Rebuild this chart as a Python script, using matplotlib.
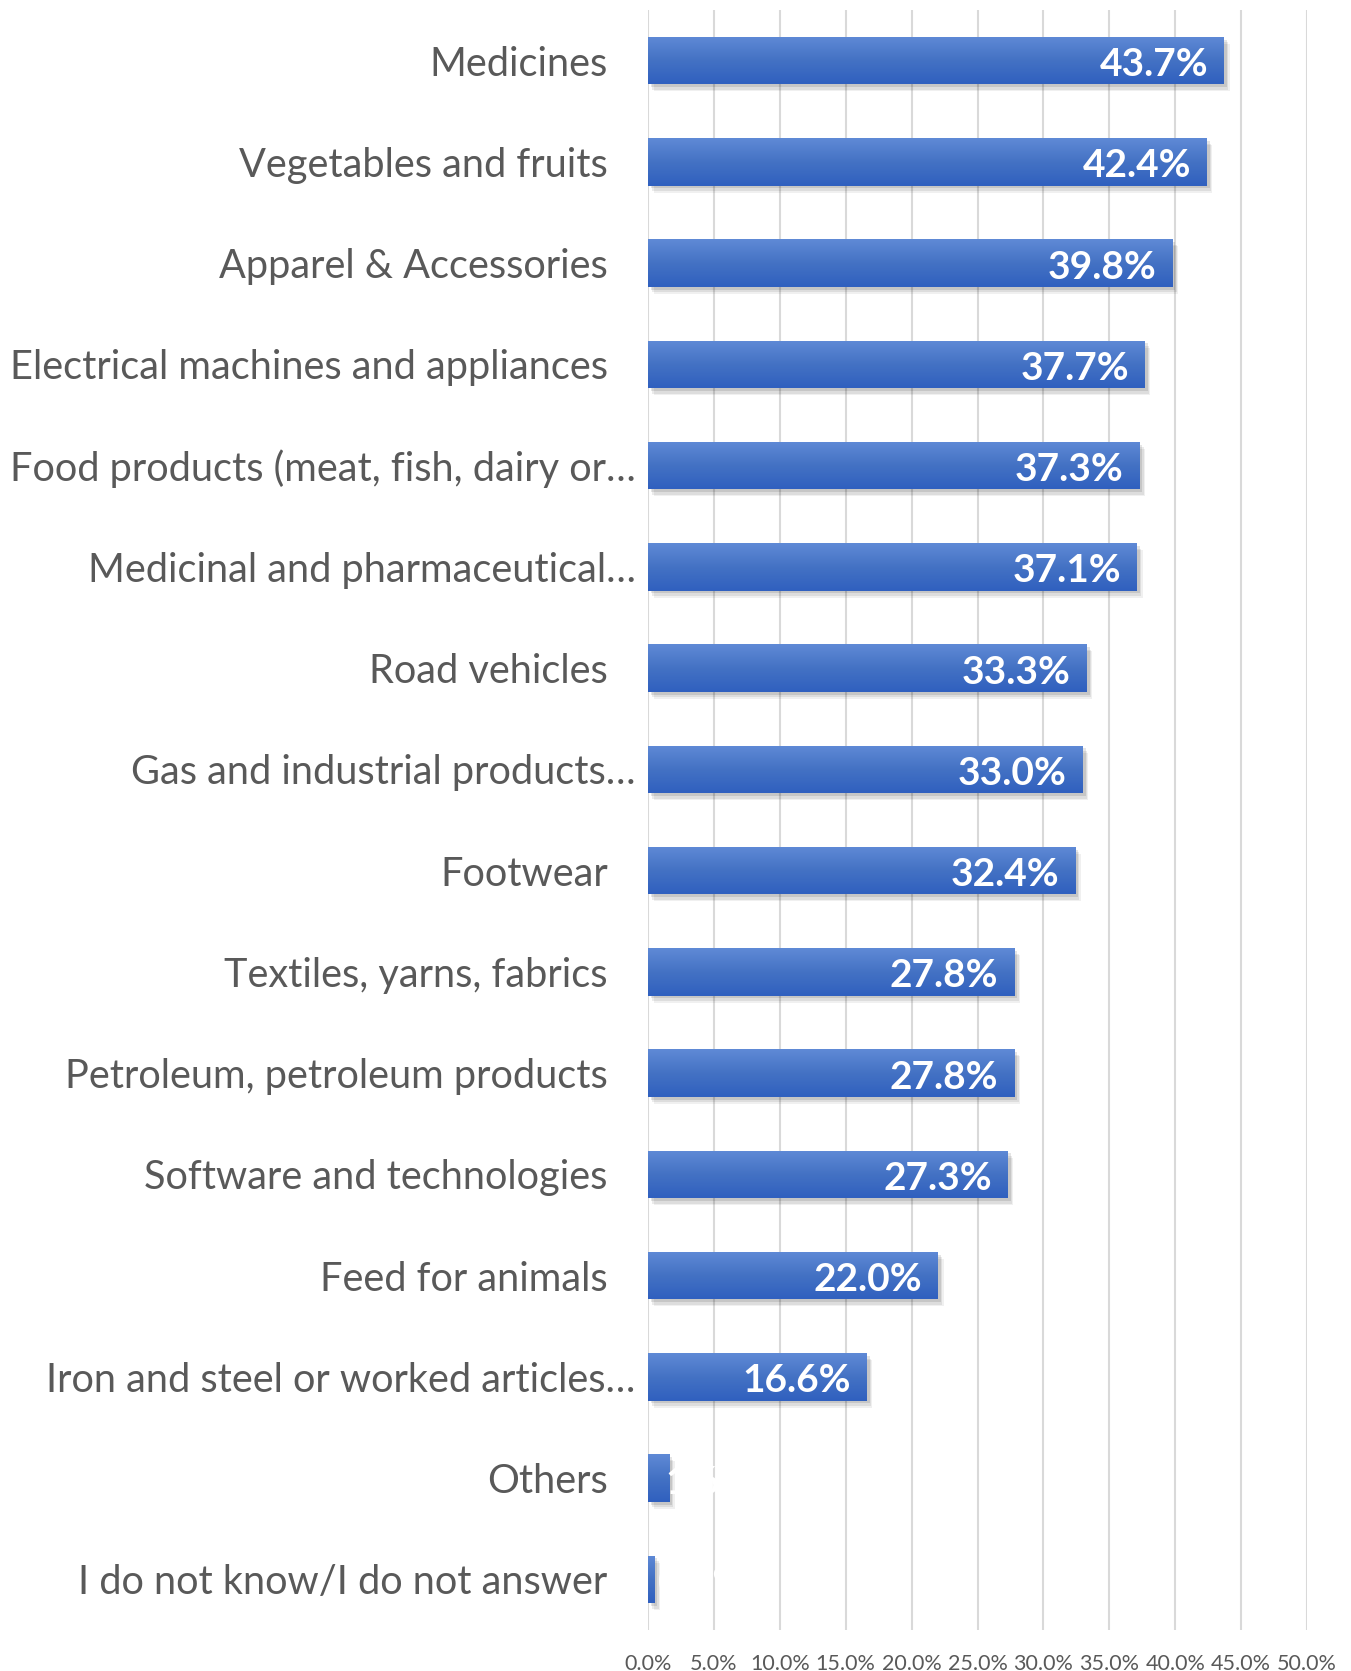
import numpy as np
import matplotlib
matplotlib.use("Agg")
import matplotlib.pyplot as plt
from matplotlib.colors import LinearSegmentedColormap
from matplotlib import patheffects as pe

plt.rcParams['font.family'] = ['Lato', 'DejaVu Sans']

# data, top to bottom as in the chart
categories = ['Medicines', 'Vegetables and fruits', 'Apparel & Accessories',
              'Electrical machines and appliances',
              'Food products (meat, fish, dairy or\u2026',
              'Medicinal and pharmaceutical\u2026', 'Road vehicles',
              'Gas and industrial products\u2026', 'Footwear',
              'Textiles, yarns, fabrics', 'Petroleum, petroleum products',
              'Software and technologies', 'Feed for animals',
              'Iron and steel or worked articles\u2026', 'Others',
              'I do not know/I do not answer']
values = [43.7, 42.4, 39.8, 37.7, 37.3, 37.1, 33.3, 33.0, 32.4,
          27.8, 27.8, 27.3, 22.0, 16.6, 1.6, 0.5]
xticks = [0, 5, 10, 15, 20, 25, 30, 35, 40, 45, 50]

W, H = 1351, 1671
fig = plt.figure(figsize=(W / 100, H / 100), dpi=100)
ax = fig.add_axes([648 / W, 1 - 1630 / H, (1307 - 648) / W, 1620 / H])

grey = '#595959'
cmap = LinearSegmentedColormap.from_list('bar', ['#5f8ad6', '#4472c4', '#3060bf'])
grad = np.linspace(0, 1, 64).reshape(-1, 1)

y = np.arange(len(categories))
bh = 0.47
shadow = [pe.SimplePatchShadow(offset=(4, -5), shadow_rgbFace='#000000', alpha=0.06),
          pe.SimplePatchShadow(offset=(3, -4), shadow_rgbFace='#000000', alpha=0.08),
          pe.SimplePatchShadow(offset=(2, -2), shadow_rgbFace='#000000', alpha=0.1),
          pe.Normal()]
bars = ax.barh(y, values, height=bh, color='#4472c4', zorder=3, path_effects=shadow)
for b in bars:
    x0, y0, w, h = b.get_x(), b.get_y(), b.get_width(), b.get_height()
    # y axis is inverted, so y0 is the top edge on screen
    im = ax.imshow(grad, cmap=cmap, aspect='auto', extent=[x0, x0 + w, y0 + h, y0],
                   origin='upper', zorder=4)
    im.set_clip_path(b)

for i, v in enumerate(values):
    lab = f'{v:.1f}%'
    if v > 5:
        ax.annotate(lab, (v, i), xytext=(-16, -4), textcoords='offset pixels',
                    ha='right', va='center', color='white', fontsize=28,
                    fontweight='bold', zorder=6)
    else:
        off = -4 if v > 1 else 3
        ax.annotate(lab, (v, i), xytext=(off, -4), textcoords='offset pixels',
                    ha='left', va='center', color='white', fontsize=28,
                    fontweight='bold', zorder=6)

ax.set_xlim(0, 50)
ax.set_ylim(len(categories) - 0.5, -0.5)
ax.set_xticks(xticks)
ax.set_xticklabels([f'{t:.1f}%' for t in xticks], fontsize=15.5, color=grey)
ax.set_yticks(y)
ax.set_yticklabels(categories, fontsize=28.6, color=grey)
for t, c in zip(ax.yaxis.get_major_ticks(), categories):
    t.set_pad(9 if c.endswith('\u2026') else 29)
ax.tick_params(axis='y', length=0)
ax.tick_params(axis='x', length=0, pad=17)

ax.grid(axis='x', color='#d9d9d9', linewidth=1.5, zorder=1)
for s in ax.spines.values():
    s.set_visible(False)
ax.set_axisbelow(True)

fig.savefig('out.png', dpi=100)
